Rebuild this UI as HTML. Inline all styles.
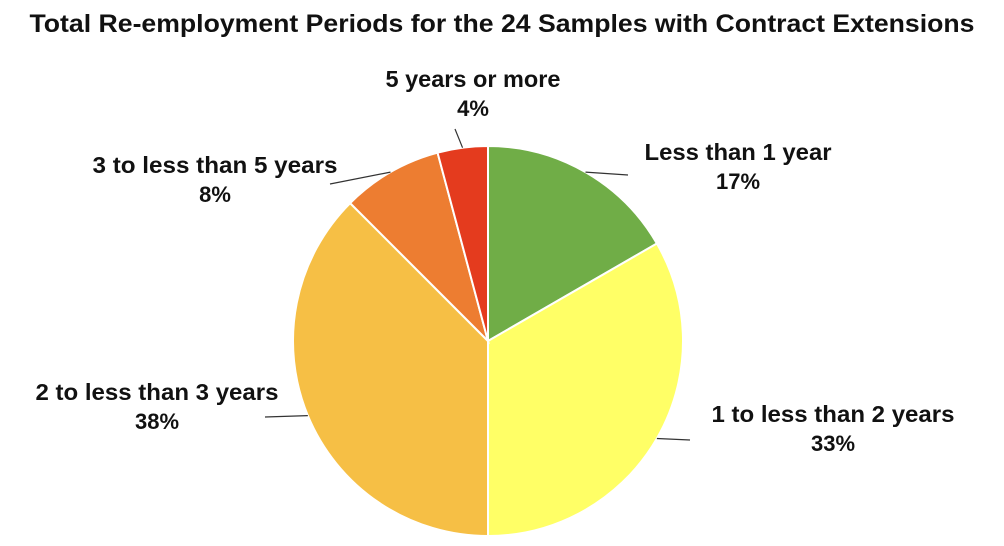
<!DOCTYPE html>
<html><head><meta charset="utf-8"><style>
body{margin:0;background:#fff;}
svg{display:block;font-family:"Liberation Sans",Arial,sans-serif;}
</style></head><body>
<svg id="chart" width="1004" height="546">
<text x="502" y="32" text-anchor="middle" font-size="25" font-weight="bold" fill="#111" textLength="945" lengthAdjust="spacingAndGlyphs">Total Re-employment Periods for the 24 Samples with Contract Extensions</text>
<g id="slices"></g>
<g id="labels"></g>
</svg>
<script>
const categories=["Less than 1 year","1 to less than 2 years","2 to less than 3 years","3 to less than 5 years","5 years or more"];
const counts=[4,8,9,2,1];
const percentLabels=["17%","33%","38%","8%","4%"];
const colors=["#70AD47","#FFFF66","#F6BF45","#ED7D31","#E43B1E"];
const cx=488,cy=341,r=195;
const ns="http://www.w3.org/2000/svg";
const total=counts.reduce((a,b)=>a+b,0);
const sg=document.getElementById('slices'),lg=document.getElementById('labels');
// label layout per slice: [textX,textY,nameWidth,lineEndX,lineEndY]
const layout=[[738,160,187,628,175],[833,422,243,690,440],[157,400,243,265,417],[215,173,245,330,184],[473,87,175,455,129]];
function pt(a,rr){return [cx+rr*Math.sin(a),cy-rr*Math.cos(a)];}
let a0=0;
counts.forEach((v,i)=>{
  const a1=a0+v/total*2*Math.PI;
  const p0=pt(a0,r),p1=pt(a1,r);
  const large=(a1-a0)>Math.PI?1:0;
  const p=document.createElementNS(ns,'path');
  p.setAttribute('d',`M${cx},${cy}L${p0[0]},${p0[1]}A${r},${r} 0 ${large} 1 ${p1[0]},${p1[1]}Z`);
  p.setAttribute('fill',colors[i]);p.setAttribute('stroke','#fff');p.setAttribute('stroke-width','2');
  
  
  sg.appendChild(p);
  const m=(a0+a1)/2,e=pt(m,r);
  const L=layout[i];
  const ln=document.createElementNS(ns,'line');
  ln.setAttribute('x1',e[0]);ln.setAttribute('y1',e[1]);ln.setAttribute('x2',L[3]);ln.setAttribute('y2',L[4]);
  ln.setAttribute('stroke','#333');ln.setAttribute('stroke-width','1.2');
  
  
  lg.appendChild(ln);
  const t=document.createElementNS(ns,'text');
  t.setAttribute('text-anchor','middle');
  t.setAttribute('font-size','23');t.setAttribute('font-weight','bold');t.setAttribute('fill','#111');
  
  
  const s1=document.createElementNS(ns,'tspan');s1.setAttribute('x',L[0]);s1.setAttribute('y',L[1]);
  s1.setAttribute('textLength',L[2]);s1.setAttribute('lengthAdjust','spacingAndGlyphs');s1.textContent=categories[i];
  const s2=document.createElementNS(ns,'tspan');s2.setAttribute('x',L[0]);s2.setAttribute('y',L[1]+29);s2.setAttribute('font-size','22');s2.textContent=percentLabels[i];
  t.appendChild(s1);t.appendChild(s2);lg.appendChild(t);
  a0=a1;
});
</script>
</body></html>
